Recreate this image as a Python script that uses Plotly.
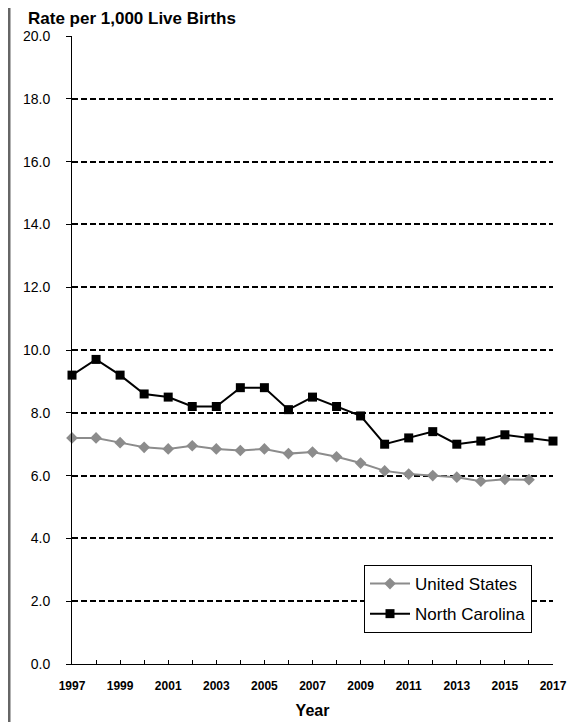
import plotly.graph_objects as go

years = list(range(1997, 2018))
nc_rate = [9.2, 9.7, 9.2, 8.6, 8.5, 8.2, 8.2, 8.8, 8.8, 8.1, 8.5,
           8.2, 7.9, 7.0, 7.2, 7.4, 7.0, 7.1, 7.3, 7.2, 7.1]
us_years = list(range(1997, 2017))
us_rate = [7.2, 7.2, 7.05, 6.9, 6.85, 6.95, 6.85, 6.8, 6.85, 6.7, 6.75,
           6.6, 6.4, 6.15, 6.05, 6.0, 5.95, 5.82, 5.88, 5.87]
y_ticks = [0, 2, 4, 6, 8, 10, 12, 14, 16, 18, 20]

# page body has an 8px margin, so the figure is sized to fill the rest
W, H = 580, 714
L, R, T, B = 64, 35, 28, 58
PW, PH = W - L - R, H - T - B


def px(x):
    return (x - L) / PW


def py(y):
    return (H - B - y) / PH


fig = go.Figure()
fig.add_trace(go.Scatter(x=us_years, y=us_rate, name="United States",
                         legendgroup="us", mode="lines+markers", cliponaxis=False,
                         line=dict(color="#8c8c8c", width=2),
                         marker=dict(symbol="diamond", size=9, color="#8c8c8c")))
fig.add_trace(go.Scatter(x=years, y=nc_rate, name="North Carolina",
                         legendgroup="nc", mode="lines+markers", cliponaxis=False,
                         line=dict(color="black", width=2),
                         marker=dict(symbol="square", size=9, color="black")))

fig.update_layout(
    width=W, height=H,
    margin=dict(l=L, r=R, t=T, b=B, autoexpand=False),
    plot_bgcolor="white", paper_bgcolor="white",
    font=dict(family="Arial, Liberation Sans", color="black"),
    legend=dict(x=px(356), y=py(557), xanchor="left", yanchor="top",
                bordercolor="black", borderwidth=1, bgcolor="white",
                font=dict(size=17), tracegroupgap=5, itemwidth=40),
    annotations=[
        dict(text="<b>Rate per 1,000 Live Births</b>", x=px(19), y=py(0.5),
             xref="paper", yref="paper", showarrow=False, font=dict(size=17),
             xanchor="left", yanchor="top", borderpad=0),
    ],
)

fig.update_xaxes(
    range=[1997, 2017], tickmode="array", tickvals=years,
    ticktext=[f"<b>{y}</b>" if (y - 1997) % 2 == 0 else "" for y in years],
    tickfont=dict(size=12), ticks="inside", ticklen=4, tickcolor="black",
    ticklabelstandoff=11, automargin=False,
    showline=True, linecolor="black", linewidth=1, showgrid=False, zeroline=False,
    title=dict(text="<b>Year</b>", font=dict(size=16), standoff=12),
)
fig.update_yaxes(
    range=[0, 20], tickmode="array", tickvals=y_ticks,
    ticktext=[f"{v:.1f}" for v in y_ticks], tickfont=dict(size=14),
    ticks="outside", ticklen=5, tickcolor="black", ticklabelstandoff=13,
    automargin=False,
    showline=True, linecolor="black", linewidth=1,
    showgrid=True, gridcolor="black", gridwidth=1.8, griddash="6px,3px",
    zeroline=False,
)

# outer frame edges seen in the reference
fig.add_shape(type="line", xref="paper", yref="paper",
              x0=px(1), x1=px(1), y0=py(H), y1=py(0),
              line=dict(color="#666666", width=3))
fig.add_shape(type="line", xref="paper", yref="paper",
              x0=px(579), x1=px(579), y0=py(H), y1=py(0),
              line=dict(color="#b0b0b0", width=1))

fig.write_html("out.html")
